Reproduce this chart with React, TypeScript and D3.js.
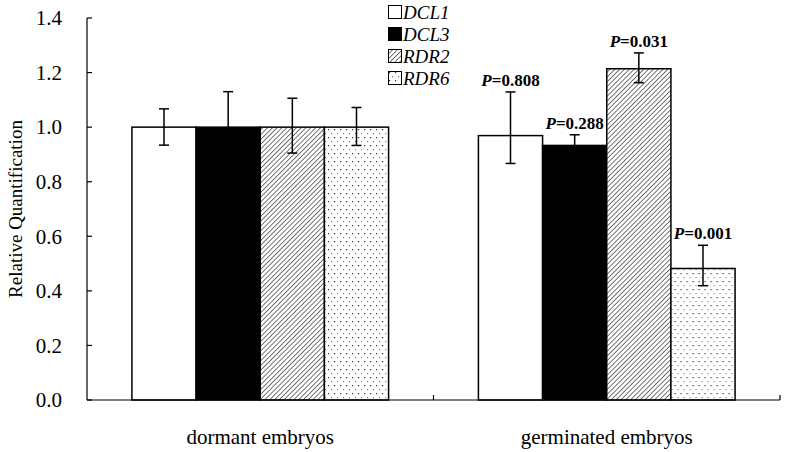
import * as d3 from 'd3';
import React from 'react';

// groups on the x axis and the four genes
const groups = ['dormant embryos', 'germinated embryos'];
const genes = ['DCL1', 'DCL3', 'RDR2', 'RDR6'];

// relative quantification, one array per group (gene order as above)
const dormantValues = [1.0, 1.0, 1.0, 1.0];
const dormantErrUp = [0.067, 0.13, 0.106, 0.072];
const dormantErrDown = [0.066, 0.13, 0.095, 0.067];
const germinatedValues = [0.969, 0.933, 1.214, 0.482];
const germinatedErrUp = [0.16, 0.039, 0.058, 0.085];
const germinatedErrDown = [0.102, 0.039, 0.051, 0.063];
const germinatedP = ['0.808', '0.288', '0.031', '0.001'];

const yTicks = [0, 0.2, 0.4, 0.6, 0.8, 1.0, 1.2, 1.4];

const W = 792;
const H = 452;
const serif = "'Liberation Serif', 'DejaVu Serif', 'Times New Roman', Times, serif";

function fillFor(i: number) {
  if (i === 0) return '#ffffff';
  if (i === 1) return '#000000';
  if (i === 2) return 'url(#hatch)';
  return 'url(#dots)';
}

export default function App() {
  const margin = { left: 87, right: 12, top: 18, bottom: 52 };
  const x0 = d3.scaleBand().domain(groups).range([margin.left, W - margin.right]);
  const x1 = d3.scaleBand().domain(genes).range([0, x0.bandwidth()]).paddingInner(0).paddingOuter(0.7);
  const y = d3.scaleLinear().domain([0, 1.4]).range([H - margin.bottom, margin.top]);

  const rows = [
    { group: groups[0], values: dormantValues, up: dormantErrUp, down: dormantErrDown, p: null as string[] | null },
    { group: groups[1], values: germinatedValues, up: germinatedErrUp, down: germinatedErrDown, p: germinatedP },
  ];

  const y0 = y(0);
  const cap = 5;

  return (
    <svg width={W} height={H} style={{ position: 'absolute', left: 0, top: 0, background: '#fff', fontFamily: serif }}>
      <defs>
        <pattern id="hatch" width="3.4" height="3.4" patternUnits="userSpaceOnUse" patternTransform="rotate(45)">
          <rect width="3.4" height="3.4" fill="#fff" />
          <line x1="0" y1="0" x2="0" y2="3.4" stroke="#3a3a3a" strokeWidth="1.4" />
        </pattern>
        <pattern id="dots" width="6" height="8" patternUnits="userSpaceOnUse">
          <rect width="6" height="8" fill="#fff" />
          <rect x="1" y="1" width="1.2" height="1.2" fill="#333" />
          <rect x="4" y="5" width="1.2" height="1.2" fill="#888" />
        </pattern>
      </defs>

      {rows.map((r) => (
        <g key={r.group} transform={`translate(${x0(r.group)},0)`}>
          {genes.map((g, i) => {
            const bx = x1(g)!;
            const bw = x1.bandwidth();
            const cx = bx + bw / 2;
            const top = y(r.values[i] + r.up[i]);
            const bot = y(r.values[i] - r.down[i]);
            return (
              <g key={g}>
                <rect x={bx} y={y(r.values[i])} width={bw} height={y0 - y(r.values[i])}
                  fill={fillFor(i)} stroke="#000" strokeWidth={1.5} />
                <line x1={cx} x2={cx} y1={top} y2={bot} stroke="#000" strokeWidth={1.5} />
                <line x1={cx - cap} x2={cx + cap} y1={top} y2={top} stroke="#000" strokeWidth={1.5} />
                <line x1={cx - cap} x2={cx + cap} y1={bot} y2={bot} stroke="#000" strokeWidth={1.5} />
                {r.p && (
                  <text x={cx} y={top - 6} textAnchor="middle" fontWeight="bold" fontSize={17}>
                    <tspan fontStyle="italic">P</tspan>={r.p[i]}
                  </text>
                )}
              </g>
            );
          })}
        </g>
      ))}

      {/* y axis */}
      <line x1={margin.left} x2={margin.left} y1={y(1.4)} y2={y0} stroke="#000" strokeWidth={1.2} />
      {yTicks.map((t) => (
        <g key={t}>
          <line x1={margin.left} x2={margin.left + 5} y1={y(t)} y2={y(t)} stroke="#000" strokeWidth={1.2} />
          <text x={margin.left - 25} y={y(t)} dy="0.35em" textAnchor="end" fontSize={21}>
            {d3.format('.1f')(t)}
          </text>
        </g>
      ))}
      <text transform={`translate(22,${(y(0) + y(1.4)) / 2}) rotate(-90)`} textAnchor="middle"
        fontSize={19}>Relative Quantification</text>

      {/* x axis */}
      <line x1={margin.left} x2={W - margin.right} y1={y0} y2={y0} stroke="#000" strokeWidth={1.2} />
      {groups.map((g) => (
        <g key={g}>
          <line x1={x0(g)! + x0.bandwidth()} x2={x0(g)! + x0.bandwidth()} y1={y0} y2={y0 - 5} stroke="#000" strokeWidth={1.2} />
          <text x={x0(g)! + x0.bandwidth() / 2} y={y0 + 44} textAnchor="middle" fontSize={21}>{g}</text>
        </g>
      ))}

      {/* legend */}
      {genes.map((g, i) => (
        <g key={g} transform={`translate(388,${5 + i * 22})`}>
          <rect x={0.5} y={0.5} width={13} height={13} fill={fillFor(i)} stroke="#000" strokeWidth={1} />
          <text x={15} y={14} fontStyle="italic" fontSize={19}>{g}</text>
        </g>
      ))}
    </svg>
  );
}
